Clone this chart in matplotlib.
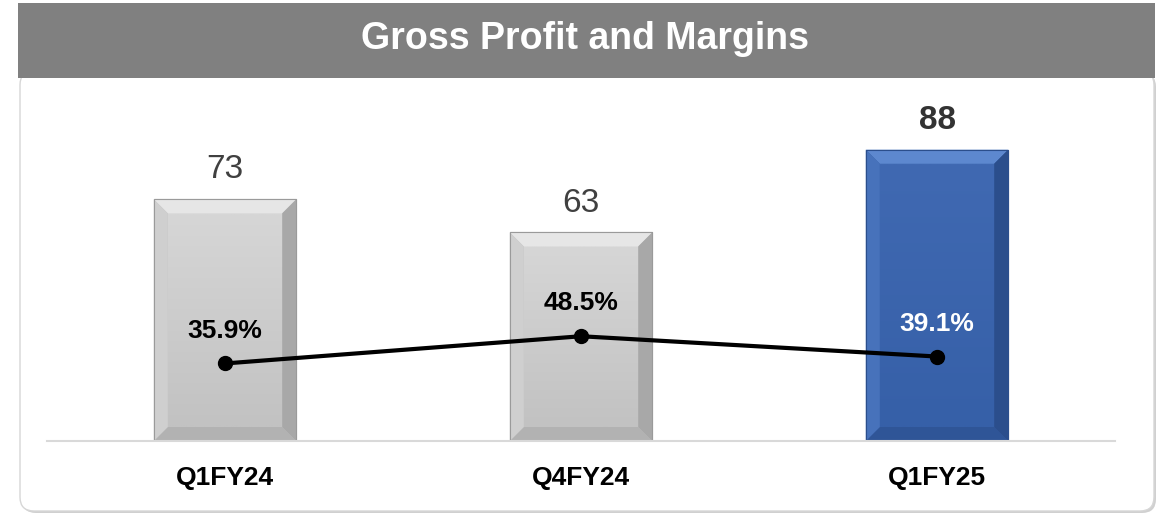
import numpy as np
import matplotlib
matplotlib.use("Agg")
import matplotlib.pyplot as plt
from matplotlib.patches import Polygon, FancyBboxPatch, Rectangle

plt.rcParams["font.family"] = ["Liberation Sans", "DejaVu Sans"]

# ── data ──────────────────────────────────────────────────────────────────────
quarters     = ["Q1FY24", "Q4FY24", "Q1FY25"]
gross_profit = [73, 63, 88]
margin_pct   = [35.9, 48.5, 39.1]
title        = "Gross Profit and Margins"

W, H = 1162, 519
fig = plt.figure(figsize=(W / 100, H / 100), dpi=100)
fig.patch.set_facecolor("white")

# ── card frame + header band ─────────────────────────────────────────────────
shadow = FancyBboxPatch((22 / W, 6 / H), 1134 / W, 440 / H,
                        boxstyle="round,pad=0,rounding_size=0.012",
                        transform=fig.transFigure, facecolor="#d0d0d0",
                        edgecolor="none", zorder=0, mutation_aspect=W / H)
card = FancyBboxPatch((20 / W, 8 / H), 1134 / W, 440 / H,
                      boxstyle="round,pad=0,rounding_size=0.012",
                      transform=fig.transFigure, facecolor="white",
                      edgecolor="#d6d6d6", linewidth=1.0, zorder=1,
                      mutation_aspect=W / H)
band = Rectangle((18 / W, (H - 78) / H), 1137 / W, 75 / H,
                 transform=fig.transFigure, facecolor="#808080",
                 edgecolor="none", zorder=2)
for p in (shadow, card, band):
    fig.patches.append(p)
fig.text(585 / W, (H - 39) / H, title, color="white", fontsize=27,
         fontweight="bold", ha="center", va="center", zorder=3)

# ── axes ─────────────────────────────────────────────────────────────────────
ax_l, ax_r, ax_b, ax_t = 47, 1115, 441, 90
ax = fig.add_axes([ax_l / W, (H - ax_b) / H, (ax_r - ax_l) / W, (ax_b - ax_t) / H])
ax.set_zorder(5)
ax.patch.set_visible(False)

x = np.arange(len(quarters))
bar_w = 0.40
y_max = (ax_b - ax_t) / 3.31
ax.set_xlim(-0.5, len(quarters) - 0.5)
ax.set_ylim(0, y_max)

sx = 3.0 / (ax_r - ax_l)          # data units per pixel (x)
sy = y_max / (ax_b - ax_t)        # data units per pixel (y)
bev = 14

gray = dict(face_top="#d6d6d6", face_bot="#c2c2c2", top="#e6e6e6",
            left="#cfcfcf", right="#a8a8a8", bottom="#b2b2b2", edge="#9a9a9a")
blue = dict(face_top="#4069b2", face_bot="#3660a8", top="#5d88cf",
            left="#4772bb", right="#2b4e8c", bottom="#2f5597", edge="#2b4e8c")


def hex2rgb(h):
    return np.array([int(h[i:i + 2], 16) / 255 for i in (1, 3, 5)])


for i, (xi, v) in enumerate(zip(x, gross_profit)):
    c = blue if i == len(quarters) - 1 else gray
    x0, x1, y0, y1 = xi - bar_w / 2, xi + bar_w / 2, 0, v
    bx, by = bev * sx, bev * sy
    ax.bar(xi, v, width=bar_w, color=c["face_bot"], edgecolor=c["edge"],
           linewidth=0.8, zorder=2)
    # face gradient
    grad = np.linspace(0, 1, 64)[:, None, None]
    img = hex2rgb(c["face_top"]) * (1 - grad) + hex2rgb(c["face_bot"]) * grad
    ax.imshow(img, extent=(x0 + bx, x1 - bx, y0 + by, y1 - by),
              aspect="auto", zorder=2.1, interpolation="bilinear")
    # bevels
    polys = {
        "top":    [(x0, y1), (x1, y1), (x1 - bx, y1 - by), (x0 + bx, y1 - by)],
        "bottom": [(x0, y0), (x1, y0), (x1 - bx, y0 + by), (x0 + bx, y0 + by)],
        "left":   [(x0, y0), (x0, y1), (x0 + bx, y1 - by), (x0 + bx, y0 + by)],
        "right":  [(x1, y0), (x1, y1), (x1 - bx, y1 - by), (x1 - bx, y0 + by)],
    }
    for side, pts in polys.items():
        ax.add_patch(Polygon(pts, closed=True, facecolor=c[side],
                             edgecolor="none", zorder=2.2))
    ax.add_patch(Rectangle((x0, y0), bar_w, v, facecolor="none",
                           edgecolor=c["edge"], linewidth=0.8, zorder=2.3))
    is_last = i == len(quarters) - 1
    ax.annotate(f"{v}", (xi, v), xytext=(0, 10), textcoords="offset points",
                ha="center", va="bottom", fontsize=24,
                fontweight="bold" if is_last else "normal",
                color="#333333" if is_last else "#404040")

ax.set_xlim(-0.5, len(quarters) - 0.5)
ax.set_ylim(0, y_max)

# ── margin line (secondary axis) ─────────────────────────────────────────────
ax2 = ax.twinx()
ax2.set_ylim(0, (ax_b - ax_t) / 2.16)
ax2.plot(x, margin_pct, color="black", linewidth=3.0, marker="o",
         markersize=10, zorder=4)
for i, (xi, m) in enumerate(zip(x, margin_pct)):
    ax2.annotate(f"{m:.1f}%", (xi, m), xytext=(0, 15), textcoords="offset points",
                 ha="center", va="bottom", fontsize=19, fontweight="bold",
                 color="white" if i == len(quarters) - 1 else "black")

# ── cosmetics ────────────────────────────────────────────────────────────────
for a in (ax, ax2):
    for s in a.spines.values():
        s.set_visible(False)
    a.set_yticks([])
ax.spines["bottom"].set_visible(True)
ax.spines["bottom"].set_color("#d9d9d9")
ax.spines["bottom"].set_linewidth(1.5)
ax.set_xticks(x)
ax.set_xticklabels(quarters, fontsize=19, fontweight="bold")
ax.tick_params(axis="x", length=0, pad=18)
ax2.tick_params(axis="x", length=0, labelbottom=False)

fig.savefig("out.png", dpi=100)
